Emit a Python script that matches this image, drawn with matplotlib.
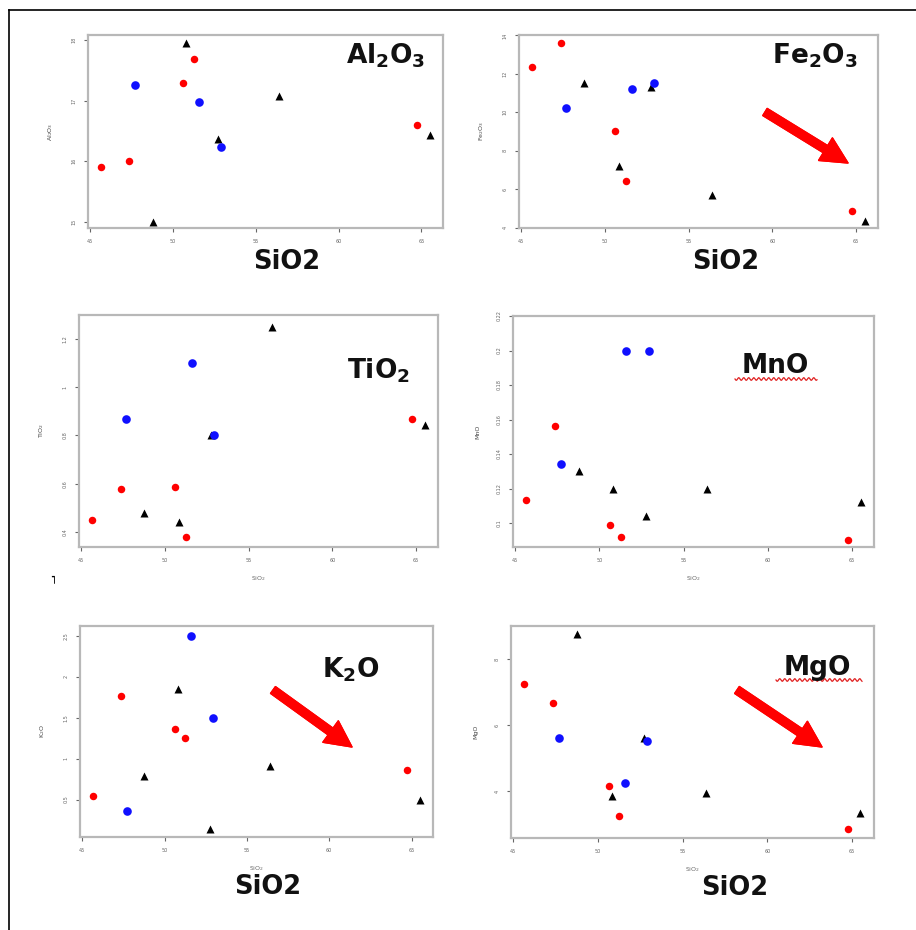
import matplotlib.pyplot as plt
import numpy as np

W, H = 916, 930  # figure size in pixels

### Data (SiO2 is shared by all six panels)
sio2_red = [45.65, 47.37, 50.63, 51.26, 64.75]
sio2_blue = [47.7, 51.6, 52.92]
sio2_black = [48.77, 50.81, 52.74, 56.4, 65.5]

al2o3_red = [15.90, 16.01, 17.29, 17.68, 16.59]
al2o3_blue = [17.25, 16.97, 16.23]
al2o3_black = [15.00, 17.95, 16.37, 17.07, 16.43]

fe2o3_red = [12.33, 13.60, 9.02, 6.41, 4.89]
fe2o3_blue = [10.21, 11.19, 11.50]
fe2o3_black = [11.52, 7.22, 11.33, 5.69, 4.34]

tio2_red = [0.451, 0.579, 0.586, 0.379, 0.869]
tio2_blue = [0.870, 1.100, 0.800]
tio2_black = [0.479, 0.440, 0.800, 1.251, 0.843]

mno_red = [0.1136, 0.1565, 0.0991, 0.0919, 0.0904]
mno_blue = [0.134, 0.200, 0.200]
mno_black = [0.130, 0.120, 0.104, 0.120, 0.112]

k2o_red = [0.540, 1.763, 1.363, 1.258, 0.867]
k2o_blue = [0.357, 2.500, 1.502]
k2o_black = [0.789, 1.857, 0.137, 0.907, 0.491]

mgo_red = [7.24, 6.67, 4.14, 3.23, 2.83]
mgo_blue = [5.61, 4.24, 5.52]
mgo_black = [8.78, 3.85, 5.61, 3.94, 3.34]

x_ticks = [45, 50, 55, 60, 65]
al2o3_ticks = [15, 16, 17, 18]
fe2o3_ticks = [4, 6, 8, 10, 12, 14]
tio2_ticks = [0.4, 0.6, 0.8, 1.0, 1.2]
mno_ticks = [0.10, 0.12, 0.14, 0.16, 0.18, 0.20, 0.22]
k2o_ticks = [0.5, 1.0, 1.5, 2.0, 2.5]
mgo_ticks = [4, 6, 8]


def rect(l, t, r, b):
    return [l / W, 1 - b / H, (r - l) / W, (b - t) / H]


plt.rcParams['mathtext.fontset'] = 'dejavusans'
fig = plt.figure(figsize=(W / 100, H / 100), dpi=100)
fig.patch.set_facecolor('white')

# box (pixels), y data, y ticks, y limits, y label, title, title pos, small xlabel
panels = [
    dict(box=(88, 35, 443, 228), ys=(al2o3_red, al2o3_blue, al2o3_black), ticks=al2o3_ticks,
         ylim=(14.90, 18.08), ylab='Al$_2$O$_3$', title=r'$\mathbf{Al_2O_3}$', tpos=(386, 56), xlab=False),
    dict(box=(519, 35, 878, 228), ys=(fe2o3_red, fe2o3_blue, fe2o3_black), ticks=fe2o3_ticks,
         ylim=(3.98, 14.02), ylab='Fe$_2$O$_3$', title=r'$\mathbf{Fe_2O_3}$', tpos=(815, 56), xlab=False),
    dict(box=(79, 315, 438, 547), ys=(tio2_red, tio2_blue, tio2_black), ticks=tio2_ticks,
         ylim=(0.338, 1.299), ylab='TiO$_2$', title=r'$\mathbf{TiO_2}$', tpos=(378, 371), xlab=True),
    dict(box=(513, 316, 874, 547), ys=(mno_red, mno_blue, mno_black), ticks=mno_ticks,
         ylim=(0.0861, 0.2200), ylab='MnO', title='MnO', tpos=(775, 366), xlab=True),
    dict(box=(80, 626, 433, 837), ys=(k2o_red, k2o_blue, k2o_black), ticks=k2o_ticks,
         ylim=(0.043, 2.622), ylab='K$_2$O', title=r'$\mathbf{K_2O}$', tpos=(351, 670), xlab=True),
    dict(box=(511, 626, 874, 838), ys=(mgo_red, mgo_blue, mgo_black), ticks=mgo_ticks,
         ylim=(2.57, 9.015), ylab='MgO', title='MgO', tpos=(817, 668), xlab=True),
]

gray = '#b8b8b8'
for p in panels:
    ax = fig.add_axes(rect(*p['box']))
    yr, yb, yk = p['ys']
    ax.plot(sio2_red, yr, 'o', color='#ff0000', ms=5.4, mec='none')
    ax.plot(sio2_black, yk, '^', color='black', ms=6.4, mec='none')
    ax.plot(sio2_blue, yb, 'o', color='#1010ff', ms=6.2, mec='none')
    ax.set_xlim(44.87, 66.3)
    ax.set_ylim(*p['ylim'])
    ax.set_xticks(x_ticks)
    ax.set_yticks(p['ticks'])
    ax.set_yticklabels([f'{t:g}' for t in p['ticks']], rotation=90, va='center')
    ax.tick_params(colors='#666666', labelsize=3.5, length=3, width=0.8, pad=5)
    for s in ax.spines.values():
        s.set_color(gray)
        s.set_linewidth(1.6)
    ax.set_ylabel(p['ylab'], fontsize=4.5, color='#444444', labelpad=12)
    if p['xlab']:
        ax.set_xlabel('SiO$_2$', fontsize=4.5, color='#666666', labelpad=8)
    tx, ty = p['tpos']
    fig.text(tx / W, 1 - ty / H, p['title'], fontsize=19, fontweight='bold',
             family='DejaVu Sans', ha='center', va='center', color='#111111')

# big SiO2 captions
for cx, cy in [(287, 262), (726, 262), (268, 887), (735, 888)]:
    fig.text(cx / W, 1 - cy / H, 'SiO2', fontsize=18.5, fontweight='bold',
             family='DejaVu Sans', ha='center', va='center', color='#111111')

# red wavy spell-check underlines under MnO and MgO
for x0, x1, y0 in [(735, 817, 379), (776, 862, 680)]:
    xs = np.linspace(x0, x1, 200)
    ys = y0 + 1.3 * np.sin((xs - x0) * 2 * np.pi / 5.0)
    fig.add_artist(plt.Line2D(xs / W, 1 - ys / H, color='#e02020', lw=0.9))

# red trend arrows
for (x0, y0), (x1, y1) in [((765, 112), (848, 163)), ((273, 690), (352, 747)), ((737, 690), (822, 747))]:
    fig.add_artist(plt.annotate('', xy=(x1, H - y1), xytext=(x0, H - y0),
                                xycoords='figure pixels', textcoords='figure pixels',
                                arrowprops=dict(arrowstyle='simple,head_length=1.9,head_width=1.9,tail_width=0.6',
                                                mutation_scale=10, color='#ff0000', shrinkA=0, shrinkB=0)))

# small stray mark left of the lower panels
fig.text(53 / W, 1 - 580 / H, '˥', fontsize=7, fontweight='bold', ha='center', va='center')

# outer frame (left and top edges only)
fig.add_artist(plt.Line2D([9 / W, 9 / W], [0, 1 - 10 / H], color='black', lw=1.2))
fig.add_artist(plt.Line2D([9 / W, 1], [1 - 10 / H, 1 - 10 / H], color='black', lw=1.2))

fig.savefig('out.png', dpi=100, facecolor='white')
